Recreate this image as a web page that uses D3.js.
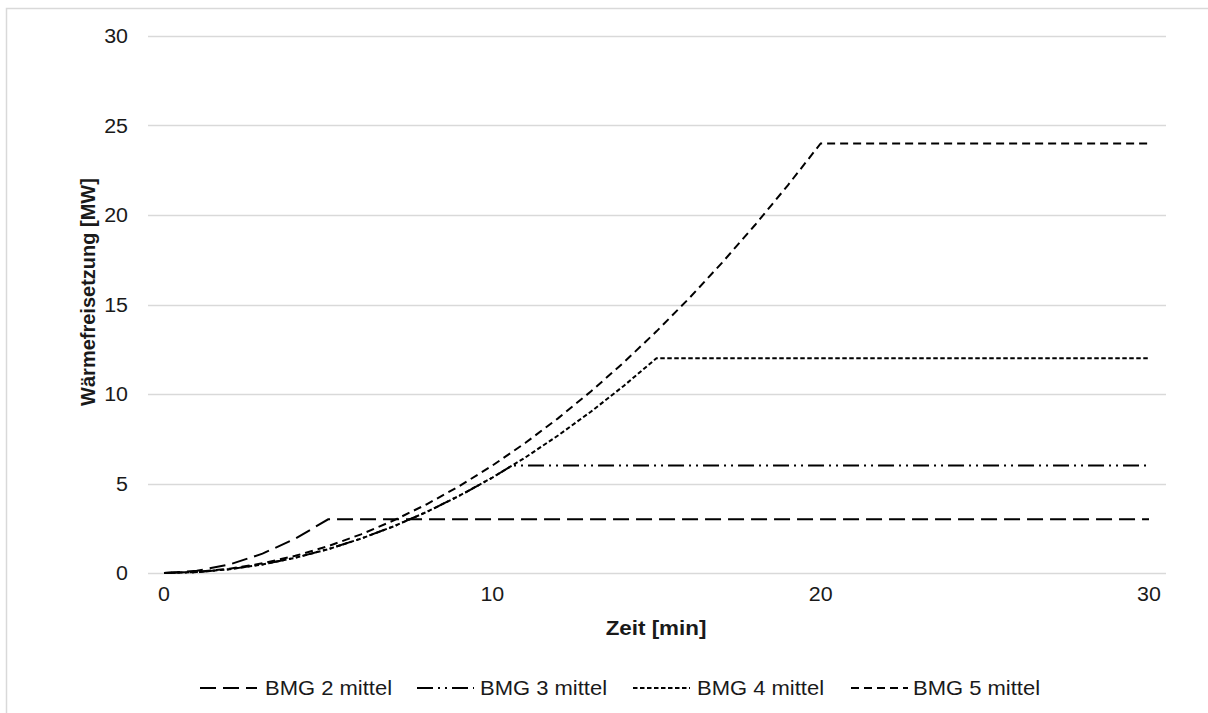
<!DOCTYPE html>
<html><head><meta charset="utf-8">
<script src="https://cdn.jsdelivr.net/npm/d3@7"></script>
<style>body{margin:0;background:#fff}svg{display:block;font-family:"Liberation Sans",Arial,sans-serif}</style>
</head><body><svg id="c" width="1208" height="713"></svg>
<script>
const seriesNames = ["BMG 2 mittel","BMG 3 mittel","BMG 4 mittel","BMG 5 mittel"];
const zeit2 = [0,1,2,3,4,5,30];
const bmg2  = [0,0.12,0.48,1.08,1.92,3,3];
const zeit3 = [0,1,2,3,4,5,6,7,8,9,10,10.6,30];
const bmg3  = [0,0.05,0.21,0.48,0.85,1.33,1.92,2.61,3.41,4.32,5.33,6,6];
const zeit4 = [0,1,2,3,4,5,6,7,8,9,10,11,12,13,14,15,30];
const bmg4  = [0,0.05,0.21,0.48,0.85,1.33,1.92,2.61,3.41,4.32,5.33,6.45,7.68,9.01,10.45,12,12];
const zeit5 = [0,1,2,3,4,5,6,7,8,9,10,11,12,13,14,15,16,17,18,19,20,30];
const bmg5  = [0,0.06,0.24,0.54,0.96,1.5,2.16,2.94,3.84,4.86,6,7.26,8.64,10.14,11.76,13.5,15.36,17.34,19.44,21.66,24,24];
const yTicks = [0,5,10,15,20,25,30];
const xTicks = [0,10,20,30];
const xTitle = "Zeit [min]";
const yTitle = "Wärmefreisetzung [MW]";

const dashes = ["16,7","16,5,2,5,2,5","4.5,2.5","8,5"];
const series = [
  {name:seriesNames[0], t:zeit2, v:bmg2},
  {name:seriesNames[1], t:zeit3, v:bmg3},
  {name:seriesNames[2], t:zeit4, v:bmg4},
  {name:seriesNames[3], t:zeit5, v:bmg5}
];

const svg = d3.select("#c");
svg.append("rect").attr("x",6.5).attr("y",8.5).attr("width",1220).attr("height",720)
  .attr("fill","none").attr("stroke","#d9d9d9").attr("stroke-width",1.5);

const x = d3.scaleLinear().domain([0,30]).range([164,1149]);
const y = d3.scaleLinear().domain([0,30]).range([573,36]);
const gridL = 148, gridR = 1166;

svg.append("g").selectAll("line").data(yTicks).join("line")
  .attr("x1",gridL).attr("x2",gridR)
  .attr("y1",d=>Math.round(y(d))+0.5).attr("y2",d=>Math.round(y(d))+0.5)
  .attr("stroke","#d9d9d9").attr("stroke-width",1.3);

svg.append("g").selectAll("text").data(yTicks).join("text")
  .attr("transform",d=>`translate(128,${y(d)}) scale(1.07,1)`).attr("dy","0.36em")
  .attr("text-anchor","end").attr("font-size",20).attr("fill","#1a1a1a")
  .text(d=>d);

svg.append("g").selectAll("text").data(xTicks).join("text")
  .attr("transform",d=>`translate(${x(d)},601) scale(1.07,1)`)
  .attr("text-anchor","middle").attr("font-size",20).attr("fill","#1a1a1a")
  .text(d=>d);

svg.append("text").attr("transform","translate(656,635) scale(1.12,1)").attr("text-anchor","middle")
  .attr("font-size",20).attr("font-weight","bold").attr("fill","#1a1a1a").text(xTitle);
svg.append("text").attr("transform","translate(95,292) rotate(-90)").attr("text-anchor","middle")
  .attr("font-size",20).attr("font-weight","bold").attr("fill","#1a1a1a").text(yTitle);

const line = d3.line().x(d=>x(d[0])).y(d=>y(d[1]));
svg.append("g").selectAll("path").data(series).join("path")
  .attr("d",s=>line(s.t.map((t,i)=>[t,s.v[i]])))
  .attr("fill","none").attr("stroke","#000").attr("stroke-width",2)
  .attr("stroke-dasharray",(s,i)=>dashes[i]);

const legX = [200,417,633,851];
const legTextX = [265,480,697,913];
const legY = 688;
const leg = svg.append("g").selectAll("g").data(series).join("g");
leg.append("line").attr("x1",(d,i)=>legX[i]).attr("x2",(d,i)=>legX[i]+57).attr("y1",legY).attr("y2",legY)
  .attr("stroke","#000").attr("stroke-width",2).attr("stroke-dasharray",(d,i)=>dashes[i]);
leg.append("text").attr("transform",(d,i)=>`translate(${legTextX[i]},${legY}) scale(1.1,1)`)
  .attr("dy","0.36em").attr("font-size",20)
  .attr("fill","#1a1a1a").text(d=>d.name);
</script></body></html>
